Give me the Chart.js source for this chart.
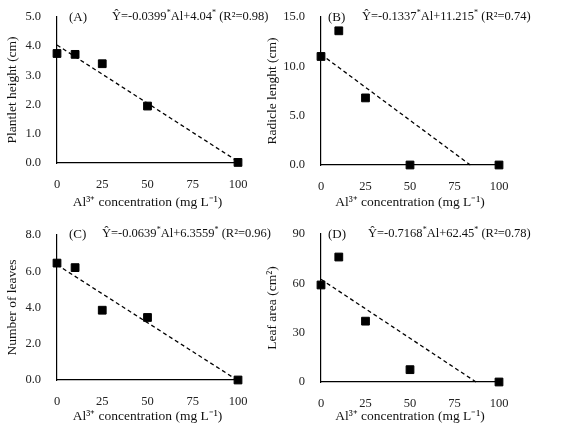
<!DOCTYPE html>
<html>
<head>
<meta charset="utf-8">
<script src="https://cdn.jsdelivr.net/npm/chart.js@4.4.0/dist/chart.umd.min.js"></script>
<style>
    body { margin: 0; background: #fff; width: 565px; height: 429px; overflow: hidden; position: relative; font-family: "Liberation Serif", serif; }
    .panel { position: absolute; }
    .eq { position: absolute; font-size: 12.5px; color: #111; white-space: nowrap; }
    .tag { position: absolute; font-size: 13px; color: #111; }
    sup { font-size: 8px; }
</style>
</head>
<body>
<div class="panel" style="left:0;top:0;width:282px;height:215px"><canvas id="cA"></canvas></div>
<div class="panel" style="left:260px;top:0;width:305px;height:215px"><canvas id="cB"></canvas></div>
<div class="panel" style="left:0;top:215px;width:282px;height:214px"><canvas id="cC"></canvas></div>
<div class="panel" style="left:260px;top:215px;width:305px;height:214px"><canvas id="cD"></canvas></div>

<div class="tag" style="left:69px;top:9px">(A)</div>
<div class="eq" style="left:112px;top:8px">Ŷ=-0.0399<sup>*</sup>Al+4.04<sup>*</sup> (R²=0.98)</div>
<div class="tag" style="left:328px;top:9px">(B)</div>
<div class="eq" style="left:362px;top:8px">Ŷ=-0.1337<sup>*</sup>Al+11.215<sup>*</sup> (R²=0.74)</div>
<div class="tag" style="left:69px;top:226px">(C)</div>
<div class="eq" style="left:102px;top:225px">Ŷ=-0.0639<sup>*</sup>Al+6.3559<sup>*</sup> (R²=0.96)</div>
<div class="tag" style="left:328px;top:226px">(D)</div>
<div class="eq" style="left:368px;top:225px">Ŷ=-0.7168<sup>*</sup>Al+62.45<sup>*</sup> (R²=0.78)</div>

<script>
    var doses = [0, 10, 25, 50, 100];

    var heightVals = [3.75, 3.72, 3.40, 1.95, 0.02];
    var radicleVals = [11.0, 13.6, 6.8, 0.0, 0.0];
    var leavesVals = [6.45, 6.20, 3.85, 3.45, 0.0];
    var areaVals = [59, 76, 37, 7.5, 0];

    // regression line end points
    var heightFit = [{x: 0, y: 4.04}, {x: 100, y: 0.05}];
    var radicleFit = [{x: 0, y: 11.215}, {x: 83.9, y: 0}];
    var leavesFit = [{x: 0, y: 6.356}, {x: 99.5, y: 0}];
    var areaFit = [{x: 0, y: 62.45}, {x: 87.1, y: 0}];

    var xTicks = [0, 25, 50, 75, 100];
    var xTitle = 'Al³⁺ concentration (mg L⁻¹)';

    function makePanel(id, vals, fit, yTitle, yMax, yStep, decimals, box) {
        var pts = doses.map(function (d, i) { return {x: d, y: vals[i]}; });
        new Chart(document.getElementById(id), {
            type: 'scatter',
            data: {
                datasets: [{
                    data: pts,
                    backgroundColor: '#000',
                    borderColor: '#000',
                    pointStyle: 'rect',
                    pointRadius: 5.5,
                    clip: false
                }, {
                    type: 'line',
                    data: fit,
                    borderColor: '#000',
                    borderWidth: 1.3,
                    borderDash: [4, 3],
                    pointRadius: 0,
                    fill: false,
                    clip: false
                }]
            },
            options: {
                responsive: true,
                maintainAspectRatio: false,
                animation: false,
                layout: { padding: { top: box.top, right: box.right } },
                plugins: { legend: { display: false }, tooltip: { enabled: false } },
                scales: {
                    x: {
                        type: 'linear', min: 0, max: 100,
                        afterBuildTicks: function (axis) { axis.ticks = xTicks.map(function (v) { return {value: v}; }); },
                        afterFit: function (axis) { axis.height = box.bottom; },
                        grid: { display: false },
                        border: { color: '#000', width: 1.2 },
                        ticks: { color: '#222', font: { family: 'Liberation Serif', size: 12.5 }, padding: 6 },
                        title: { display: true, text: xTitle, color: '#111', font: { family: 'Liberation Serif', size: 13.5 }, padding: { top: 2 } }
                    },
                    y: {
                        min: 0, max: yMax,
                        afterFit: function (axis) { axis.width = box.left; },
                        grid: { display: false },
                        border: { color: '#000', width: 1.2 },
                        ticks: {
                            stepSize: yStep, color: '#222', padding: 8,
                            font: { family: 'Liberation Serif', size: 12.5 },
                            callback: function (v) { return v.toFixed(decimals); }
                        },
                        title: { display: true, text: yTitle, color: '#111', font: { family: 'Liberation Serif', size: 13.5 }, padding: { bottom: 2 } }
                    }
                }
            }
        });
    }

    makePanel('cA', heightVals, heightFit, 'Plantlet height (cm)', 5, 1, 1, {left: 57, right: 44, top: 17, bottom: 52});
    makePanel('cB', radicleVals, radicleFit, 'Radicle lenght (cm)', 15, 5, 1, {left: 61, right: 66, top: 17, bottom: 50});
    makePanel('cC', leavesVals, leavesFit, 'Number of leaves', 8, 2, 1, {left: 57, right: 44, top: 20, bottom: 49});
    makePanel('cD', areaVals, areaFit, 'Leaf area (cm²)', 90, 30, 0, {left: 61, right: 66, top: 19, bottom: 47});
</script>
</body>
</html>
